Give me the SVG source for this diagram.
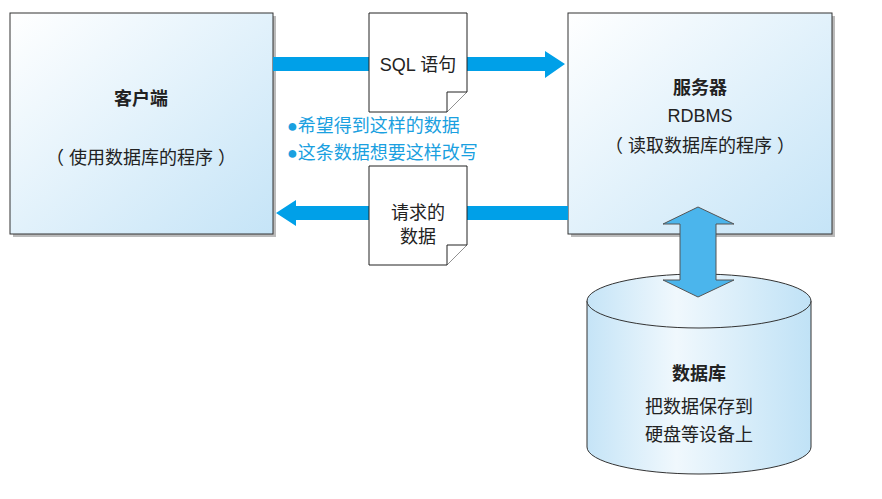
<svg xmlns="http://www.w3.org/2000/svg" width="882" height="499" viewBox="0 0 882 499">
<defs>
<linearGradient id="g" x1="0" y1="0" x2="1" y2="1"><stop offset="0" stop-color="#ffffff"/><stop offset="1" stop-color="#c5e4f7"/></linearGradient>
<linearGradient id="gc" x1="0" y1="0" x2="1" y2="0"><stop offset="0" stop-color="#c5e4f7"/><stop offset="0.4" stop-color="#f0f8fd"/><stop offset="1" stop-color="#c0e2f6"/></linearGradient>
<style>
.box{fill:url(#g);stroke:#333;stroke-width:1}
.sh{fill:#bbb}
.doc{fill:#fff;stroke:#222;stroke-width:1}
.t{font-family:"Liberation Sans","Noto Sans CJK SC",sans-serif;font-size:18px;fill:#222;text-anchor:middle}
.b{font-weight:bold}
.bl{font-family:"Liberation Sans","Noto Sans CJK SC",sans-serif;font-size:18px;fill:#1aa0e0}
.arr{fill:#00a0e8}
</style>
</defs>
<g id="client">
<rect class="sh" x="13" y="16" width="263" height="221"/>
<rect class="box" x="10" y="13" width="263" height="221"/>
<text class="t b" x="141" y="105">客户端</text>
<text class="t" x="141" y="164">（ 使用数据库的程序 ）</text>
</g>
<g id="server">
<rect class="sh" x="571" y="16" width="264" height="221"/>
<rect class="box" x="568" y="13" width="264" height="221"/>
<text class="t b" x="700" y="94">服务器</text>
<text class="t" x="700" y="122">RDBMS</text>
<text class="t" x="700" y="152">（ 读取数据库的程序 ）</text>
</g>
<g id="db">
<path d="M587 301V447A112 27 0 0 0 811 447V301Z" fill="url(#gc)" stroke="#333"/>
<ellipse cx="699" cy="301" rx="112" ry="27" fill="url(#gc)" stroke="#333"/>
<text class="t b" x="699" y="380">数据库</text>
<text class="t" x="699" y="413">把数据保存到</text>
<text class="t" x="699" y="441">硬盘等设备上</text>
</g>
<g id="connectors">
<path class="arr" d="M273 57H545V51L565 64L545 78V71H273Z"/>
<path class="arr" d="M568 206H296V200L276 213L296 226V220H568Z"/>
<path d="M698 207L734 224H716V280H734L698 297L663 280H680V224H663Z" fill="#4bb5ec" stroke="#555" stroke-width="1"/>
</g>
<g id="sql">
<path class="doc" d="M369 13H467V92L447 112H369Z"/>
<path class="doc" d="M447 112V92H467"/>
<text class="t" x="418" y="71">SQL 语句</text>
</g>
<g id="notes">
<text class="bl" x="287" y="132">●希望得到这样的数据</text>
<text class="bl" x="287" y="159">●这条数据想要这样改写</text>
</g>
<g id="result">
<path class="doc" d="M369 166H467V245L447 265H369Z"/>
<path class="doc" d="M447 265V245H467"/>
<text class="t" x="418" y="219">请求的</text>
<text class="t" x="418" y="243">数据</text>
</g>
</svg>
